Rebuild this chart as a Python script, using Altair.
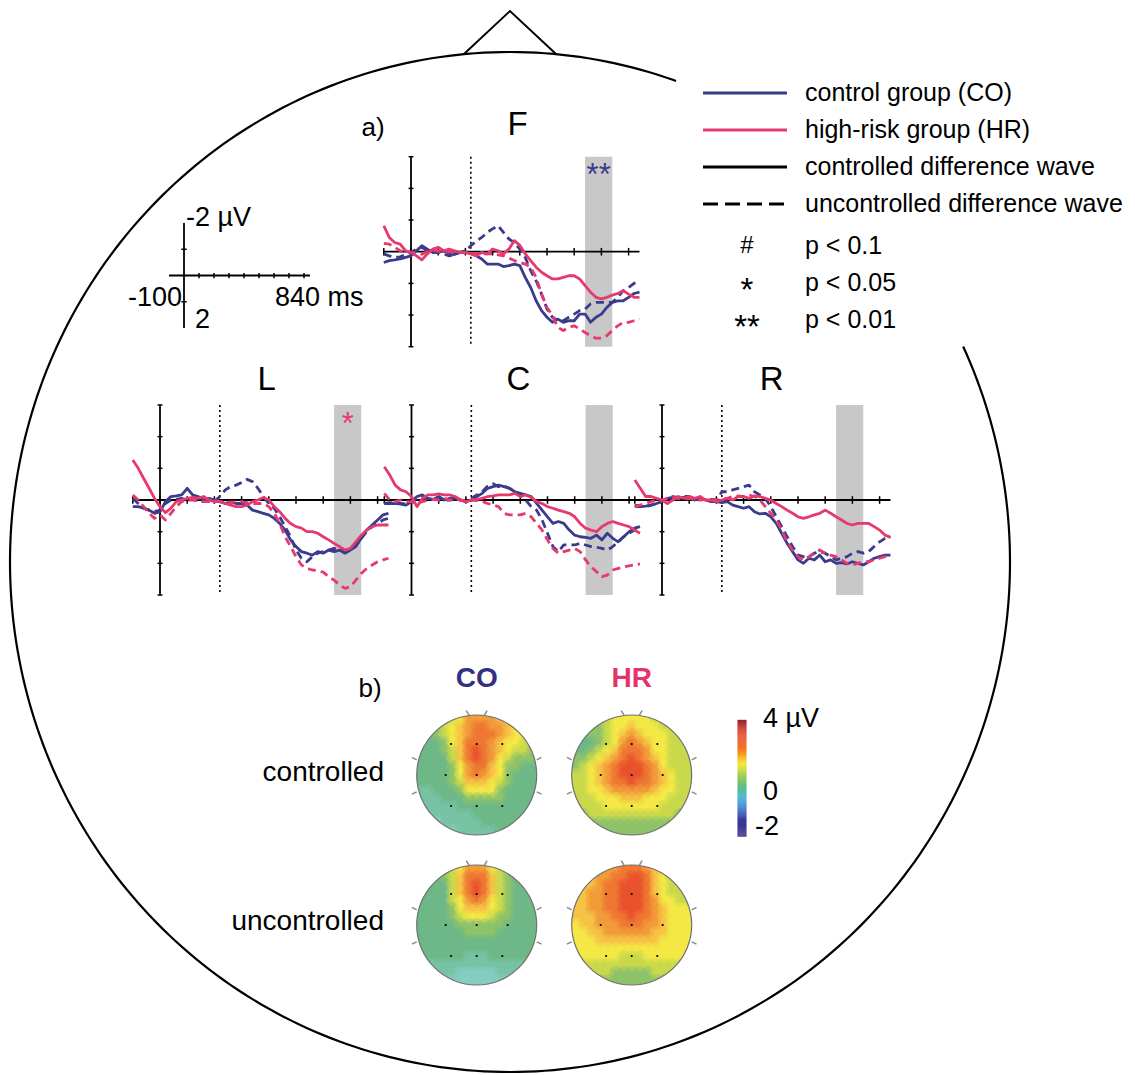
import math
import numpy as np
import pandas as pd
import altair as alt

W, H = 1135, 1075
FONT = "Liberation Sans"
NAVY = "#3B3B8E"
PINK = "#E63A6E"
BAND_GREY = "#C8C8C8"

# ---------------- data: ERP difference waves (uV, negative plotted up) ----------------
TIMES = list(range(-100, 841, 20))  # ms

F_CO_CTRL = [0.34,0.28,0.26,0.23,0.18,0.13, -0.03,-0.19,-0.08,0.02,0.02, -0.03,0.05,0.09,0.02,0.02,
             0.05,0.13,0.23,0.39,0.39, 0.39,0.47,0.44,0.39,0.44, 0.81,1.13,1.55,1.86,2.07,
             2.23,2.13,2.23,2.18,2.18, 1.97,1.97,2.23,2.07,1.97, 1.76,1.6,1.55,1.55,1.44, 1.32,1.28]
F_CO_UNC = [0.07,0.13,0.18,0.16,0.09,0.02, -0.08,-0.14,-0.03,0.02,0.02, 0.07,0.13,0.09,0.02,-0.03,
            -0.19,-0.33,-0.45,-0.61,-0.72, -0.82,-0.61,-0.4,-0.29,-0.08, 0.18,0.6,0.92,1.34,1.81,
            2.07,2.18,2.18,2.07,1.97, 1.86,1.81,1.65,1.6,1.6, 1.6,1.6,1.44,1.23,1.13, 1.0,0.92]
F_HR_CTRL = [-0.82,-0.45,-0.29,-0.24,-0.03,0.02, 0.13,0.26,0.07,-0.08,-0.14, -0.03,-0.08,-0.03,0.02,0.02,
             0.07,0.13,0.02,0.07,-0.08, -0.03,0.07,-0.08,-0.35,-0.2, 0.07,0.28,0.49,0.65,0.76,
             0.86,0.86,0.81,0.76,0.76, 0.86,1.07,1.28,1.44,1.49, 1.44,1.37,1.32,1.23,1.34, 1.44,1.44]
F_HR_UNC = [-0.26,-0.24,-0.14,-0.03,0.02,0.02, 0.05,0.08,0.0,-0.05,-0.02, 0.02,0.0,0.04,0.02,0.03,
            0.07,0.05,0.08,0.06,0.07, 0.1,0.13,0.2,0.28,0.34, 0.39,0.49,0.81,1.34,1.76,
            2.02,2.39,2.49,2.39,2.34, 2.44,2.55,2.65,2.73,2.73, 2.65,2.49,2.34,2.23,2.23, 2.18,2.13]

L_CO_CTRL = [0.21,0.21,0.26,0.32,0.42,0.37, 0.05,-0.11,-0.13,-0.16,-0.37, -0.16,-0.11,0.0,-0.05,0.0,
             0.05,0.11,0.05,0.11,0.11, 0.16,0.32,0.37,0.42,0.47, 0.58,0.74,0.95,1.26,1.47,
             1.63,1.68,1.74,1.63,1.68, 1.58,1.63,1.58,1.68,1.58, 1.47,1.21,0.95,0.79,0.63, 0.47,0.42]
L_CO_UNC = [-0.05,0.11,0.26,0.32,0.37,0.32, 0.11,0.0,-0.02,-0.05,0.0, -0.02,0.02,0.05,0.05,0.05,
            -0.11,-0.32,-0.42,-0.47,-0.55, -0.65,-0.58,-0.37,-0.11,0.11, 0.26,0.53,0.84,1.16,1.58,
            1.84,1.95,1.79,1.68,1.63, 1.58,1.53,1.58,1.63,1.58, 1.42,1.21,1.0,0.84,0.74, 0.63,0.58]
L_HR_CTRL = [-1.26,-1.0,-0.68,-0.37,-0.05,0.21, 0.4,0.26,0.05,0.0,-0.05, -0.08,-0.05,-0.11,0.0,0.05,
             0.05,0.11,0.16,0.21,0.21, 0.16,0.05,0.0,-0.08,0.0, 0.21,0.37,0.58,0.74,0.84,
             0.89,1.0,1.0,1.05,1.16, 1.26,1.37,1.47,1.58,1.53, 1.32,1.11,0.95,0.84,0.79, 0.79,0.79]
L_HR_UNC = [-0.16,0.0,0.21,0.42,0.58,0.47, 0.63,0.42,0.21,0.05,0.0, 0.0,0.02,0.05,0.05,0.02,
            0.05,0.05,0.08,0.05,0.05, 0.08,0.11,0.11,0.11,0.21, 0.42,0.74,1.16,1.47,1.79,
            2.05,2.16,2.21,2.23,2.28, 2.42,2.53,2.68,2.79,2.74, 2.53,2.32,2.16,2.05,1.95, 1.89,1.84]

C_CO_CTRL = [0.11,0.11,0.11,0.13,0.16,0.05, -0.11,-0.16,-0.05,-0.02,-0.11, 0.0,-0.05,-0.05,0.0,0.05,
             0.0,-0.11,-0.21,-0.37,-0.42, -0.47,-0.42,-0.37,-0.26,-0.21, -0.16,-0.11,0.11,0.32,0.53,
             0.74,0.68,0.74,0.95,1.11, 1.16,1.18,1.21,1.11,1.26, 1.05,1.21,1.32,1.16,1.0, 0.89,0.84]
C_CO_UNC = [0.11,0.08,0.11,0.11,0.13,0.05, -0.05,-0.11,-0.05,0.0,-0.05, 0.0,0.0,-0.02,0.0,0.05,
            -0.05,-0.16,-0.26,-0.44,-0.51, -0.42,-0.44,-0.37,-0.26,-0.16, 0.0,0.21,0.32,0.63,1.05,
            1.47,1.63,1.42,1.42,1.42, 1.37,1.42,1.47,1.49,1.53, 1.58,1.47,1.32,1.16,1.05, 0.95,0.89]
C_HR_CTRL = [-1.05,-0.79,-0.47,-0.32,-0.26,-0.11, 0.21,-0.05,-0.16,-0.16,-0.19, -0.16,-0.16,-0.11,0.0,0.05,
             0.0,-0.02,-0.05,-0.11,-0.13, -0.16,-0.16,-0.16,-0.21,-0.11, -0.16,-0.08,0.05,0.11,0.21,
             0.26,0.32,0.37,0.42,0.53, 0.74,0.89,0.95,1.0,0.84, 0.74,0.68,0.74,0.79,0.84, 0.95,1.05]
C_HR_UNC = [-0.21,0.0,0.05,0.0,0.05,0.05, 0.11,0.05,0.0,-0.02,0.0, -0.05,0.0,-0.02,0.0,0.02,
            0.0,0.02,0.05,0.11,0.16, 0.21,0.42,0.47,0.47,0.47, 0.42,0.53,0.74,0.95,1.26,
            1.53,1.68,1.63,1.58,1.53, 1.63,1.89,2.11,2.26,2.42, 2.37,2.21,2.16,2.11,2.08, 2.05,2.02]

R_CO_CTRL = [0.21,0.21,0.19,0.16,0.11,0.05, -0.05,-0.08,-0.05,-0.08,-0.08, 0.0,-0.05,0.0,0.05,0.05,
             0.08,0.05,0.16,0.21,0.26, 0.21,0.37,0.44,0.42,0.53, 0.74,1.05,1.37,1.63,1.89,
             2.0,1.84,1.89,1.74,1.95, 1.89,2.0,1.98,2.02,1.95, 2.0,2.05,1.95,1.84,1.79, 1.74,1.74]
R_CO_UNC = [0.16,0.19,0.21,0.16,0.11,0.05, -0.05,-0.11,-0.08,-0.11,-0.11, -0.05,-0.02,0.0,-0.02,0.0,
            -0.26,-0.26,-0.32,-0.37,-0.42, -0.47,-0.26,-0.16,-0.05,0.21, 0.53,0.84,1.16,1.47,1.74,
            1.79,1.79,1.68,1.63,1.68, 1.79,1.89,1.84,1.79,1.68, 1.63,1.68,1.63,1.47,1.32, 1.21,1.16]
R_HR_CTRL = [-0.63,-0.37,-0.11,-0.11,-0.05,0.0, 0.11,0.0,-0.11,-0.05,-0.11, -0.05,-0.11,0.0,0.0,0.05,
             0.0,-0.05,0.0,-0.11,-0.11, -0.05,-0.13,-0.11,-0.05,0.0, 0.11,0.21,0.32,0.42,0.53,
             0.58,0.53,0.47,0.42,0.32, 0.42,0.53,0.63,0.74,0.79, 0.74,0.74,0.74,0.84,0.95, 1.11,1.18]
R_HR_UNC = [0.21,0.16,0.11,0.05,0.0,0.0, -0.05,-0.08,-0.05,-0.02,-0.05, -0.02,0.0,-0.02,0.0,0.0,
            -0.02,-0.05,-0.11,-0.13,-0.11, -0.16,-0.11,0.0,0.21,0.42, 0.63,0.95,1.32,1.58,1.79,
            1.89,1.79,1.68,1.58,1.68, 1.74,1.79,1.89,2.0,2.05, 2.0,1.95,1.95,1.89,1.84, 1.79,1.79]

PANEL_WAVES = {
    "F": [("CO", "uncontrolled", F_CO_UNC), ("CO", "controlled", F_CO_CTRL),
          ("HR", "uncontrolled", F_HR_UNC), ("HR", "controlled", F_HR_CTRL)],
    "L": [("CO", "uncontrolled", L_CO_UNC), ("CO", "controlled", L_CO_CTRL),
          ("HR", "uncontrolled", L_HR_UNC), ("HR", "controlled", L_HR_CTRL)],
    "C": [("CO", "uncontrolled", C_CO_UNC), ("CO", "controlled", C_CO_CTRL),
          ("HR", "uncontrolled", C_HR_UNC), ("HR", "controlled", C_HR_CTRL)],
    "R": [("CO", "uncontrolled", R_CO_UNC), ("CO", "controlled", R_CO_CTRL),
          ("HR", "uncontrolled", R_HR_UNC), ("HR", "controlled", R_HR_CTRL)],
}
GROUP_COLOR = {"CO": NAVY, "HR": PINK}
SIG_WINDOW = [640, 740]          # ms, grey analysis window
SECOND_ONSET = 220               # ms, dotted line
X_TICKS = [-100, 0, 100, 200, 300, 400, 500, 600, 700, 800]
Y_TICKS = [-3, -2, -1, 0, 1, 2, 3]
SIG_MARKS = {"F": ("**", NAVY), "L": ("*", PINK)}

# ---------------- data: topographic maps (level codes, 15x15 grid) ----------------
CO_CTRL_MAP = ["334445777766555", "223456788776555", "223456788876555", "222356888765544",
               "222346898765443", "222246898754333", "222235788653322", "222235787653222",
               "222234666543222", "112223555532222", "111222333332222", "111112222222222",
               "011111122222222", "000111112222222", "000001111122222"]
HR_CTRL_MAP = ["333445555544444", "333345565554444", "223345676555444", "222345787655444",
               "223456888755444", "334567898765444", "345678999875444", "445678999876544",
               "445678898876544", "445567777765544", "444555666555444", "444455555554444",
               "334444444444433", "333333333333333", "333333333333333"]
CO_UNC_MAP = ["333345777543333", "222346888643222", "222246898643222", "222246898643222",
              "222245787543222", "222235666543222", "222234555433222", "222223333332222",
              "222222333322222", "222222222222222", "222222222222222", "222222111222222",
              "111111111111111", "111110000011111", "000000000000000"]
HR_UNC_MAP = ["666677888765555", "666778899865444", "566788999865444", "567788999865444",
              "667788999875544", "667788999876555", "666778898876555", "566777888776555",
              "556677777766555", "555666666665555", "555555555555555", "555555444555555",
              "444444444444444", "444443333344444", "333333333333333"]
LEVEL_UV = 0.37   # uV per level code

MAP_DOMAIN = [0, 0.37, 0.74, 1.11, 1.48, 1.85, 2.22, 2.59, 2.96, 3.33]
MAP_COLORS = ["#86CCC2", "#78C3A6", "#6EB888", "#8FC46A", "#C9D94C",
              "#F3E845", "#F6C445", "#F29C3A", "#EE7833", "#E9532D"]
CBAR_DOMAIN = [-2, -1.1, -0.8, -0.45, 0.05, 0.55, 1.1, 1.7, 2.1, 2.6, 3.3, 4]
CBAR_COLORS = ["#3B2A86", "#3D3B9E", "#2F55B5", "#2E7FD0", "#3DB5C9", "#62BD8C",
               "#8DC640", "#F2E61A", "#F8AE24", "#F06A22", "#E13A22", "#8B1C1E"]

# ---------------- layout ----------------
PANEL_ORIGIN = {"F": (411, 251.7), "L": (160, 500), "C": (411.5, 500), "R": (662, 500)}
PANEL_TITLE = {"F": (517.5, 125), "L": (266.7, 380), "C": (518.3, 380), "R": (771.7, 380)}
MS_PX, UV_PX = 0.272, 31.67
MAPS = [(CO_CTRL_MAP, 476.7, 775), (HR_CTRL_MAP, 631.7, 775),
        (CO_UNC_MAP, 476.7, 925), (HR_UNC_MAP, 631.7, 925)]
MAP_R = 60
HEAD = dict(cx=510, cy=562, rx=500, ry=510, start=65, end=379.4)

ONE = pd.DataFrame({"k": [0]})


def sc(domain, rng):
    return alt.Scale(domain=domain, range=rng, nice=False, zero=False)


def X(f, s):
    return alt.X(f, type="quantitative", scale=s, axis=None)


def Y(f, s):
    return alt.Y(f, type="quantitative", scale=s, axis=None)


def text(s, x, y, size, align="left", color="black", weight="normal", dy=0):
    return alt.Chart(ONE).mark_text(text=s, font=FONT, fontSize=size, align=align, baseline="middle",
                                    color=color, fontWeight=weight, dy=dy).encode(
        x=alt.value(x), y=alt.value(y))


def vrule(x1, y1, x2, y2, color="black", width=2.0, dash=None):
    kw = dict(color=color, strokeWidth=width)
    if dash:
        kw["strokeDash"] = dash
    return alt.Chart(ONE).mark_rule(**kw).encode(
        x=alt.value(x1), y=alt.value(y1), x2=alt.value(x2), y2=alt.value(y2))


layers = []

# ---- head outline ----
PX = sc([0, W], [0, W])
PY = sc([0, H], [0, H])
ang = np.append(np.arange(HEAD["start"], HEAD["end"], 1.0), HEAD["end"])
head_df = pd.DataFrame({
    "i": np.arange(len(ang)),
    "x": HEAD["cx"] + HEAD["rx"] * np.sin(np.radians(ang)),
    "y": HEAD["cy"] - HEAD["ry"] * np.cos(np.radians(ang)),
})
layers.append(alt.Chart(head_df).mark_line(color="black", strokeWidth=2.2).encode(
    x=X("x", PX), y=Y("y", PY), order="i:Q"))
nose_df = pd.DataFrame({"i": [0, 1, 2], "x": [464, 510, 556], "y": [54, 11, 54]})
layers.append(alt.Chart(nose_df).mark_line(color="black", strokeWidth=2.0).encode(
    x=X("x", PX), y=Y("y", PY), order="i:Q"))

# ---- ERP panels ----
for name in ["F", "L", "C", "R"]:
    x0, y0 = PANEL_ORIGIN[name]
    xs = sc([-100, 840], [x0 - 100 * MS_PX, x0 + 840 * MS_PX])
    ys = sc([-3, 3], [y0 - 3 * UV_PX, y0 + 3 * UV_PX])
    band = pd.DataFrame({"t1": [SIG_WINDOW[0]], "t2": [SIG_WINDOW[1]], "v1": [-3], "v2": [3]})
    layers.append(alt.Chart(band).mark_rect(color=BAND_GREY).encode(
        x=X("t1", xs), x2="t2", y=Y("v1", ys), y2="v2"))
    axes = pd.DataFrame({"t1": [0, -100], "t2": [0, 840], "v1": [-3, 0], "v2": [3, 0]})
    layers.append(alt.Chart(axes).mark_rule(color="black", strokeWidth=1.8).encode(
        x=X("t1", xs), x2="t2", y=Y("v1", ys), y2="v2"))
    ticks = pd.DataFrame({
        "t1": X_TICKS + [-9] * len(Y_TICKS),
        "t2": X_TICKS + [9] * len(Y_TICKS),
        "v1": [-0.12] * len(X_TICKS) + Y_TICKS,
        "v2": [0.12] * len(X_TICKS) + Y_TICKS,
    })
    layers.append(alt.Chart(ticks).mark_rule(color="black", strokeWidth=1.5).encode(
        x=X("t1", xs), x2="t2", y=Y("v1", ys), y2="v2"))
    dot = pd.DataFrame({"t": [SECOND_ONSET], "v1": [-3], "v2": [3]})
    layers.append(alt.Chart(dot).mark_rule(color="black", strokeWidth=1.6, strokeDash=[2, 3]).encode(
        x=X("t", xs), y=Y("v1", ys), y2="v2"))
    for grp, cond, vals in PANEL_WAVES[name]:
        n = min(len(TIMES), len(vals))
        df = pd.DataFrame({"t": TIMES[:n], "v": vals[:n]})
        kw = dict(color=GROUP_COLOR[grp], strokeWidth=2.8, strokeJoin="round")
        if cond == "uncontrolled":
            kw["strokeDash"] = [8, 5]
        layers.append(alt.Chart(df).mark_line(**kw).encode(x=X("t", xs), y=Y("v", ys)))
    if name in SIG_MARKS:
        s, col = SIG_MARKS[name]
        sdf = pd.DataFrame({"t": [sum(SIG_WINDOW) / 2], "v": [-2.6]})
        layers.append(alt.Chart(sdf).mark_text(text=s, font=FONT, fontSize=31, color=col,
                                               baseline="middle", dy=7).encode(
            x=X("t", xs), y=Y("v", ys)))
    tx, ty = PANEL_TITLE[name]
    layers.append(text(name, tx, ty, 33, align="center"))

# ---- scale bar ----
sxs = sc([-100, 840], [169, 310])
sys_ = sc([-2, 2], [223, 328])
sb_axes = pd.DataFrame({"t1": [0, -100], "t2": [0, 840], "v1": [-2, 0], "v2": [2, 0]})
layers.append(alt.Chart(sb_axes).mark_rule(color="black", strokeWidth=1.8).encode(
    x=X("t1", sxs), x2="t2", y=Y("v1", sys_), y2="v2"))
sb_xt = [100, 200, 300, 400, 500, 600, 700, 800]
sb_yt = [-1, 1]
sb_ticks = pd.DataFrame({
    "t1": sb_xt + [-18] * 2, "t2": sb_xt + [18] * 2,
    "v1": [-0.1] * len(sb_xt) + sb_yt, "v2": [0.1] * len(sb_xt) + sb_yt})
layers.append(alt.Chart(sb_ticks).mark_rule(color="black", strokeWidth=1.5).encode(
    x=X("t1", sxs), x2="t2", y=Y("v1", sys_), y2="v2"))
layers += [
    text("-2 \u00b5V", 186, 218, 27),
    text("-100", 182, 298, 27, align="right"),
    text("840 ms", 275, 298, 27),
    text("2", 195, 320, 27),
]

# ---- legend ----
layers += [
    vrule(703, 93, 787, 93, NAVY, 2.8),
    vrule(703, 130, 787, 130, PINK, 2.8),
    vrule(703, 167, 787, 167, "black", 2.8),
    vrule(703, 204, 787, 204, "black", 2.8, dash=[15, 7]),
    text("control group (CO)", 805, 93, 25),
    text("high-risk group (HR)", 805, 130, 25),
    text("controlled difference wave", 805, 167, 25),
    text("uncontrolled difference wave", 805, 204, 25),
    text("#", 747, 246, 24, align="center"),
    text("*", 747, 283, 33, align="center", dy=8),
    text("**", 747, 320, 33, align="center", dy=8),
    text("p < 0.1", 805, 246, 25),
    text("p < 0.05", 805, 283, 25),
    text("p < 0.01", 805, 320, 25),
    text("a)", 373, 128, 26, align="center"),
    text("b)", 370, 689, 26, align="center"),
]

# ---- topographic maps ----
MAP_SCALE = alt.Scale(domain=MAP_DOMAIN, range=MAP_COLORS, interpolate="rgb")
for grid, cx, cy in MAPS:
    mx = sc([-7.5, 7.5], [cx - MAP_R, cx + MAP_R])
    my = sc([-7.5, 7.5], [cy - MAP_R, cy + MAP_R])
    rows = []
    for j, row in enumerate(grid):
        for i, ch in enumerate(row):
            gx, gy = i - 7, j - 7
            if gx * gx + gy * gy <= 8.3 ** 2:
                rows.append({"gx": gx, "gy": gy, "x1": gx - 0.5, "x2": gx + 0.56,
                             "y1": gy - 0.5, "y2": gy + 0.56, "uv": int(ch) * LEVEL_UV})
    cells = pd.DataFrame(rows)
    layers.append(alt.Chart(cells).mark_rect().encode(
        x=X("x1", mx), x2="x2", y=Y("y1", my), y2="y2",
        color=alt.Color("uv:Q", scale=MAP_SCALE, legend=None)))
    # soft overlay of the same cells to round off the step edges
    layers.append(alt.Chart(cells).mark_circle(size=190, opacity=0.45).encode(
        x=X("gx", mx), y=Y("gy", my),
        color=alt.Color("uv:Q", scale=MAP_SCALE, legend=None)))
    layers.append(alt.Chart(ONE).mark_arc(innerRadius=MAP_R, outerRadius=MAP_R + 14, theta=0,
                                          theta2=2 * math.pi, color="white").encode(
        x=alt.value(cx), y=alt.value(cy)))
    layers.append(alt.Chart(ONE).mark_arc(innerRadius=MAP_R - 0.6, outerRadius=MAP_R + 0.6, theta=0,
                                          theta2=2 * math.pi, color="#707070").encode(
        x=alt.value(cx), y=alt.value(cy)))
    elec = pd.DataFrame({"x": [-3.2, 0, 3.2, -3.875, 0, 3.875, -3.2, 0, 3.2],
                         "y": [-3.875] * 3 + [0] * 3 + [3.875] * 3})
    layers.append(alt.Chart(elec).mark_circle(size=5, color="black", opacity=1).encode(
        x=X("x", mx), y=Y("y", my)))
    ears = pd.DataFrame({"x1": [-0.95, 0.95, -7.5, -7.5, 7.5, 7.5],
                         "x2": [-1.3, 1.3, -8.1, -8.1, 8.1, 8.1],
                         "y1": [-7.45, -7.45, -1.9, 2.1, -1.9, 2.1],
                         "y2": [-8.05, -8.05, -2.2, 2.4, -2.2, 2.4]})
    layers.append(alt.Chart(ears).mark_rule(color="#8A8A8A", strokeWidth=1.5).encode(
        x=X("x1", mx), x2="x2", y=Y("y1", my), y2="y2"))

layers += [
    text("CO", 476.7, 679, 28, align="center", color="#33317F", weight="bold"),
    text("HR", 631.7, 679, 28, align="center", color="#E5336D", weight="bold"),
    text("controlled", 384, 773, 28, align="right"),
    text("uncontrolled", 384, 922, 28, align="right"),
]

# ---- colour bar ----
cv = np.round(np.arange(-2, 4, 0.05), 3)
cbar = pd.DataFrame({"v": cv, "v2": cv + 0.06})
cys = sc([-2, 4], [836.7, 720])
layers.append(alt.Chart(cbar).mark_rect().encode(
    x=alt.value(737.5), x2=alt.value(746.5), y=Y("v", cys), y2="v2",
    color=alt.Color("v:Q", scale=alt.Scale(domain=CBAR_DOMAIN, range=CBAR_COLORS, interpolate="rgb"),
                    legend=None)))
layers += [
    text("4 \u00b5V", 763, 719, 27),
    text("0", 763, 792, 27),
    text("-2", 755, 827, 27),
]

chart = alt.layer(*layers).resolve_scale(
    x="independent", y="independent", color="independent"
).properties(
    width=W, height=H, padding=0, autosize=alt.AutoSizeParams(type="none")
).configure_view(stroke=None)

chart.save("out.html", embed_options={"renderer": "svg", "actions": False})
